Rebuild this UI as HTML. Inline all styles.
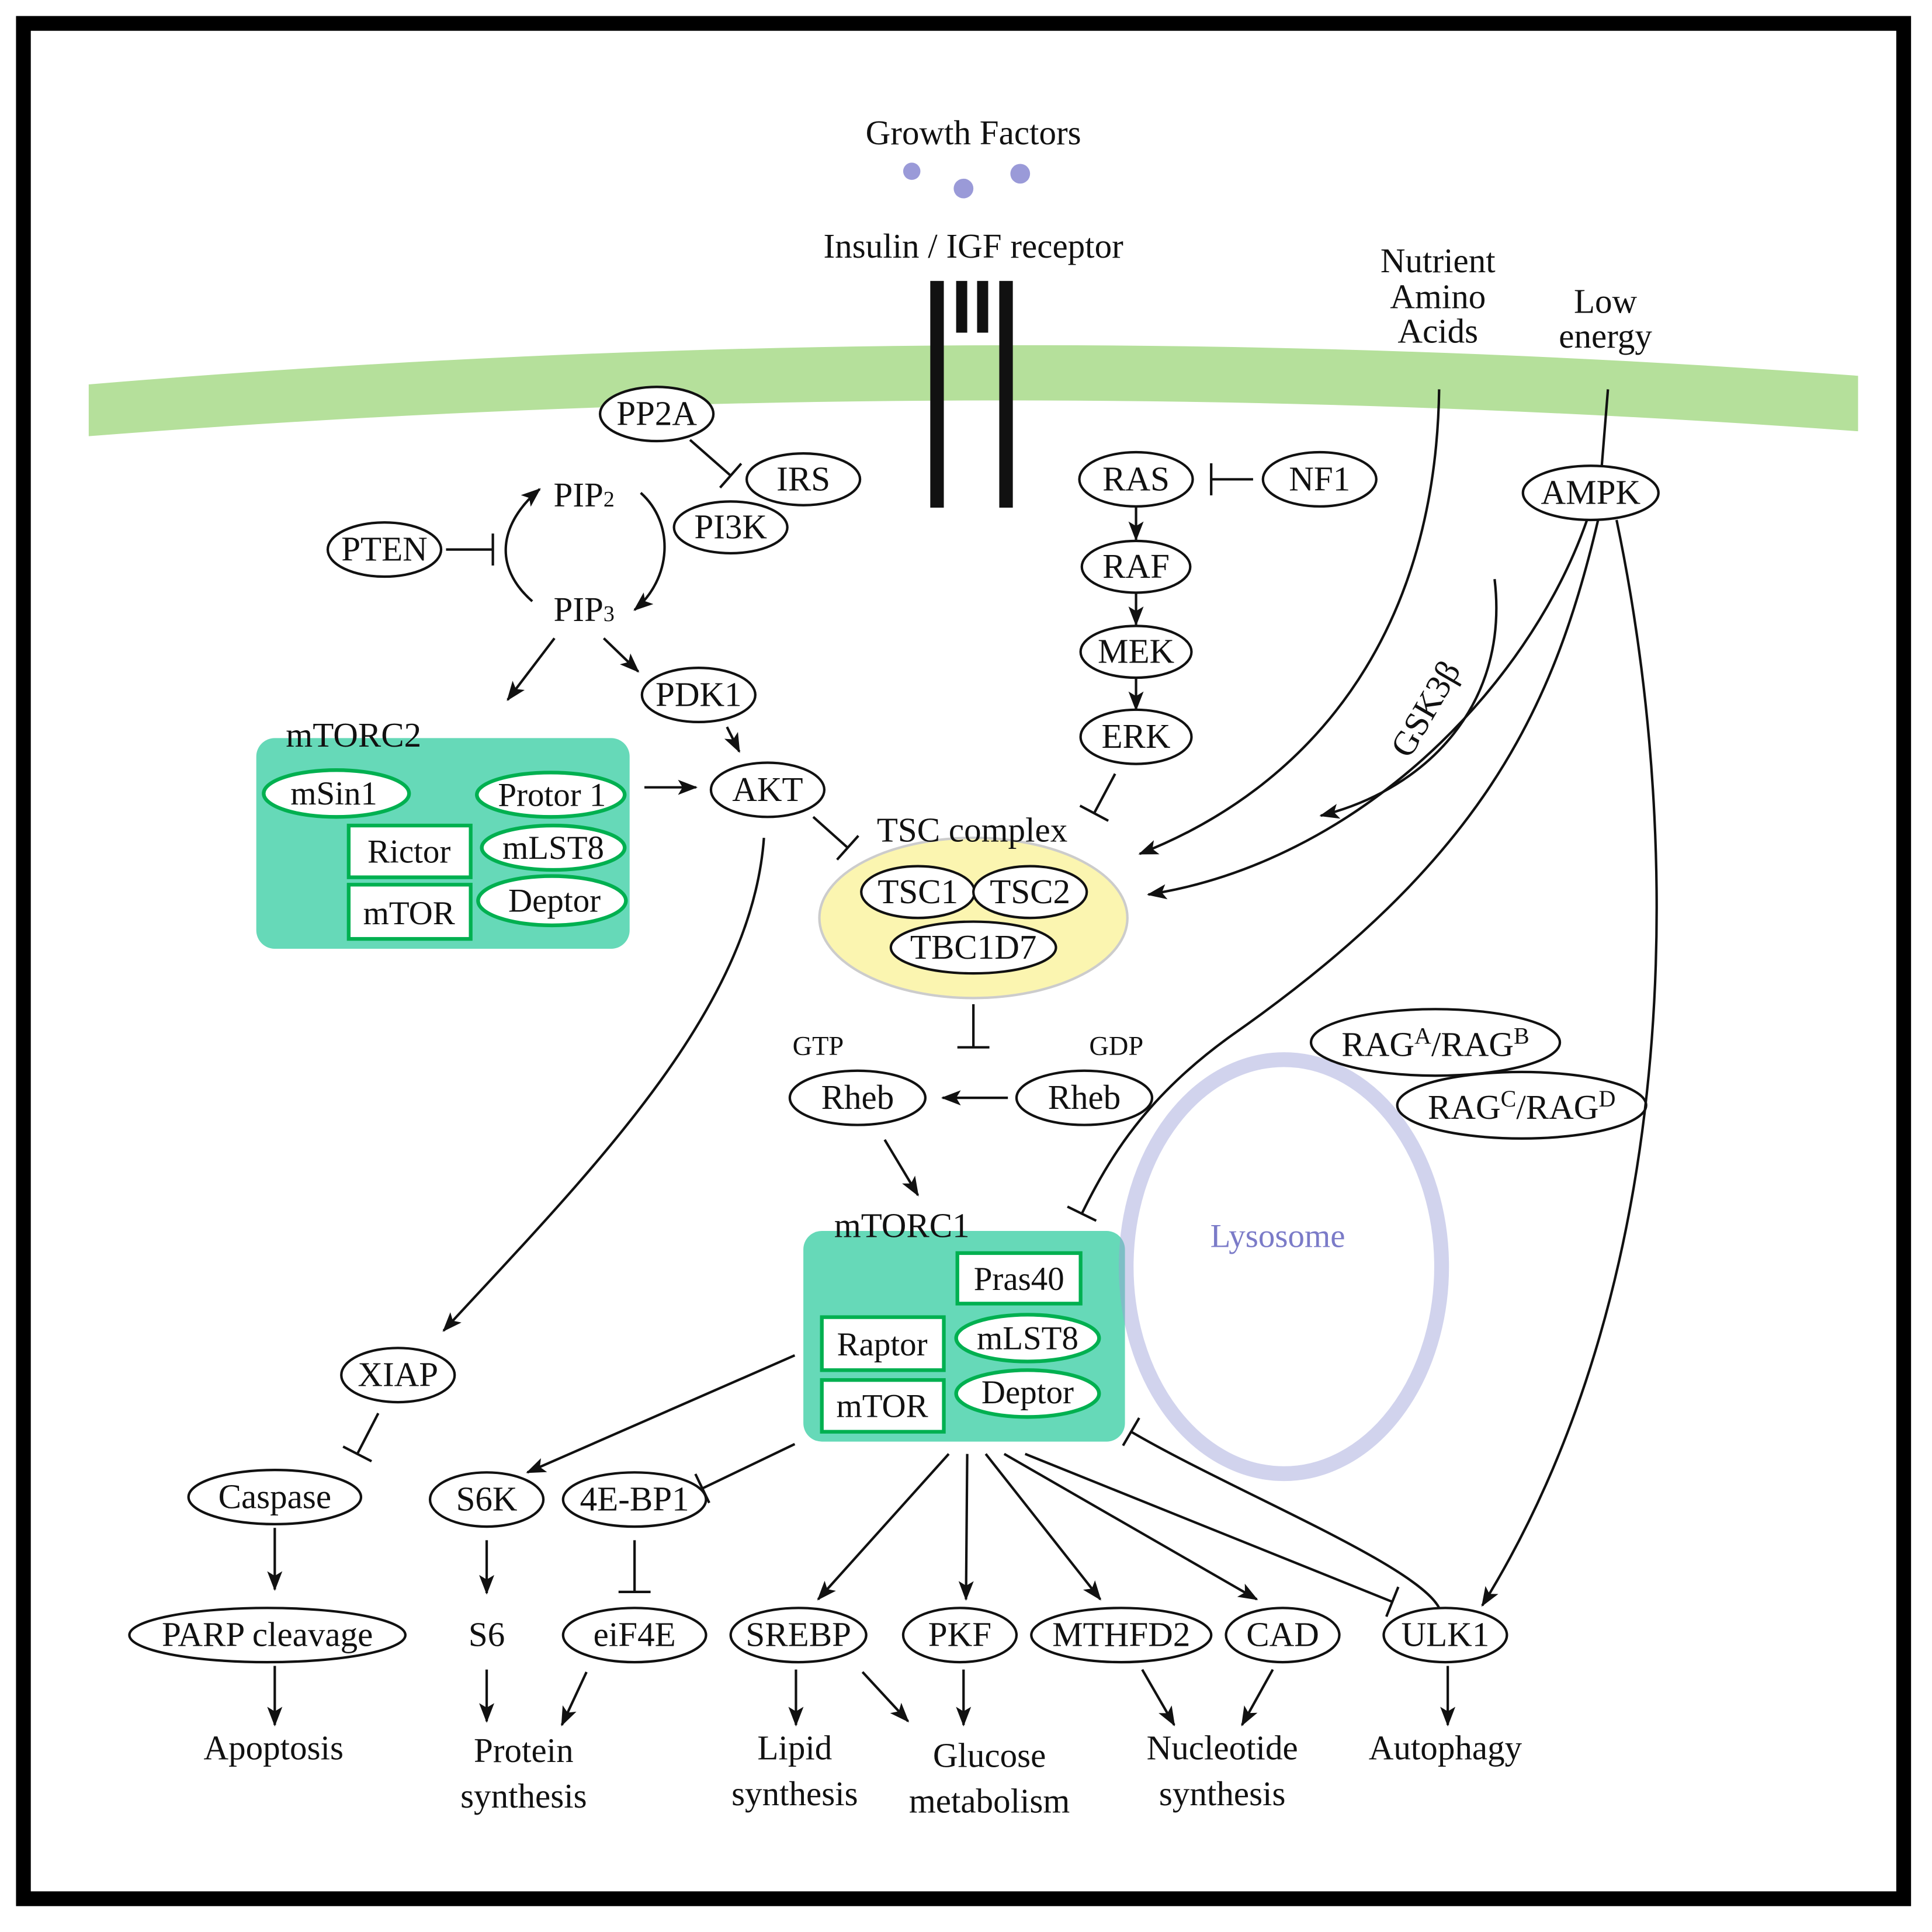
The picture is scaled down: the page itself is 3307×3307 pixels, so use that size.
<!DOCTYPE html>
<html><head><meta charset="utf-8"><style>html,body{margin:0;padding:0;background:#fff}svg{display:block}</style></head>
<body>
<svg width="3307" height="3307" viewBox="0 0 1568 1568" xmlns="http://www.w3.org/2000/svg" font-family="Liberation Serif, serif">
<defs>
<marker id="ar" markerUnits="userSpaceOnUse" markerWidth="16" markerHeight="14" refX="12" refY="5" orient="auto" viewBox="0 0 13 10"><path d="M0,0 L13,5 L0,10 L3,5 Z" fill="#111"/></marker>
<marker id="bar" markerUnits="userSpaceOnUse" markerWidth="4" markerHeight="30" refX="2" refY="15" orient="auto" viewBox="0 0 4 30"><path d="M2,2 L2,28" stroke="#111" stroke-width="2"/></marker>
</defs>
<rect x="0" y="0" width="1568" height="1568" fill="#fff"/>
<rect x="19" y="19" width="1526" height="1522" fill="none" stroke="#000" stroke-width="12"/>

<path d="M72,312 Q790,252 1508,305 L1508,350 Q790,298 72,354 Z" fill="#b5e09b"/>

<rect x="755" y="228" width="11" height="184" fill="#111"/>
<rect x="811" y="228" width="11" height="184" fill="#111"/>
<rect x="776" y="228" width="9" height="42" fill="#111"/>
<rect x="793" y="228" width="9" height="42" fill="#111"/>

<circle cx="740" cy="139" r="7" fill="#9a9ad8"/>
<circle cx="782" cy="153" r="8" fill="#9a9ad8"/>
<circle cx="828" cy="141" r="8" fill="#9a9ad8"/>

<g font-size="28" fill="#111" text-anchor="middle">
<text x="790" y="117">Growth Factors</text>
<text x="790" y="209">Insulin / IGF receptor</text>
<text x="1167" y="221">Nutrient</text>
<text x="1167" y="250">Amino</text>
<text x="1167" y="278">Acids</text>
<text x="1303" y="254">Low</text>
<text x="1303" y="282">energy</text>
</g>

<rect x="208" y="599" width="303" height="171" rx="15" fill="#66d9b8"/>
<text x="232" y="606" font-size="28" fill="#111">mTORC2</text>
<g stroke="#00b050" stroke-width="3" fill="#fff">
<ellipse cx="273" cy="644" rx="59" ry="19"/>
<ellipse cx="447" cy="645" rx="60" ry="18"/>
<rect x="283" y="670" width="99" height="42"/>
<ellipse cx="449" cy="688" rx="58" ry="18"/>
<rect x="283" y="718" width="99" height="44"/>
<ellipse cx="448" cy="731" rx="60" ry="20"/>
</g>
<g font-size="27" fill="#111" text-anchor="middle">
<text x="271" y="653">mSin1</text>
<text x="448" y="654">Protor 1</text>
<text x="332" y="700">Rictor</text>
<text x="449" y="697">mLST8</text>
<text x="332" y="750">mTOR</text>
<text x="450" y="740">Deptor</text>
</g>

<rect x="652" y="999" width="261" height="171" rx="15" fill="#66d9b8"/>
<text x="677" y="1004" font-size="28" fill="#111">mTORC1</text>
<g stroke="#00b050" stroke-width="3" fill="#fff">
<rect x="777" y="1017" width="100" height="41"/>
<rect x="667" y="1069" width="99" height="43"/>
<rect x="667" y="1120" width="99" height="42"/>
<ellipse cx="834" cy="1086" rx="58" ry="19"/>
<ellipse cx="834" cy="1131" rx="58" ry="19"/>
</g>
<g font-size="27" fill="#111" text-anchor="middle">
<text x="827" y="1047">Pras40</text>
<text x="716" y="1100">Raptor</text>
<text x="716" y="1150">mTOR</text>
<text x="834" y="1095">mLST8</text>
<text x="834" y="1139">Deptor</text>
</g>

<ellipse cx="1042" cy="1028" rx="128" ry="168" fill="none" stroke="#9a9ed8" stroke-opacity="0.45" stroke-width="12"/>
<text x="1037" y="1012" font-size="27" fill="#7b7bc8" text-anchor="middle">Lysosome</text>

<ellipse cx="790" cy="745" rx="125" ry="65" fill="#fbf5b0" stroke="#ccc" stroke-width="2"/>
<text x="789" y="683" font-size="28" fill="#111" text-anchor="middle">TSC complex</text>

<g stroke="#111" stroke-width="2" fill="#fff">
<ellipse cx="533" cy="336" rx="46" ry="22"/>
<ellipse cx="652" cy="389" rx="46" ry="21"/>
<ellipse cx="593" cy="428" rx="46" ry="21"/>
<ellipse cx="312" cy="446" rx="46" ry="22"/>
<ellipse cx="567" cy="564" rx="46" ry="22"/>
<ellipse cx="623" cy="641" rx="46" ry="22"/>
<ellipse cx="922" cy="389" rx="46" ry="22"/>
<ellipse cx="1071" cy="389" rx="46" ry="22"/>
<ellipse cx="922" cy="460" rx="44" ry="21"/>
<ellipse cx="922" cy="529" rx="45" ry="21"/>
<ellipse cx="922" cy="598" rx="45" ry="22"/>
<ellipse cx="1291" cy="400" rx="55" ry="22"/>
<ellipse cx="745" cy="724" rx="46" ry="21"/>
<ellipse cx="836" cy="724" rx="46" ry="21"/>
<ellipse cx="790" cy="769" rx="67" ry="21"/>
<ellipse cx="696" cy="891" rx="55" ry="22"/>
<ellipse cx="880" cy="891" rx="55" ry="22"/>
<ellipse cx="1165" cy="846" rx="101" ry="27"/>
<ellipse cx="1235" cy="897" rx="101" ry="27"/>
<ellipse cx="323" cy="1116" rx="46" ry="22"/>
<ellipse cx="223" cy="1215" rx="70" ry="22"/>
<ellipse cx="395" cy="1217" rx="46" ry="22"/>
<ellipse cx="515" cy="1217" rx="58" ry="22"/>
<ellipse cx="217" cy="1327" rx="112" ry="22"/>
<ellipse cx="515" cy="1327" rx="58" ry="22"/>
<ellipse cx="648" cy="1327" rx="55" ry="22"/>
<ellipse cx="779" cy="1327" rx="46" ry="22"/>
<ellipse cx="910" cy="1327" rx="73" ry="22"/>
<ellipse cx="1041" cy="1327" rx="46" ry="22"/>
<ellipse cx="1173" cy="1327" rx="50" ry="22"/>
</g>
<g font-size="28" fill="#111" text-anchor="middle">
<text x="533" y="345">PP2A</text>
<text x="652" y="398">IRS</text>
<text x="593" y="437">PI3K</text>
<text x="312" y="455">PTEN</text>
<text x="567" y="573">PDK1</text>
<text x="623" y="650">AKT</text>
<text x="922" y="398">RAS</text>
<text x="1071" y="398">NF1</text>
<text x="922" y="469">RAF</text>
<text x="922" y="538">MEK</text>
<text x="922" y="607">ERK</text>
<text x="1291" y="409">AMPK</text>
<text x="745" y="733">TSC1</text>
<text x="836" y="733">TSC2</text>
<text x="790" y="778">TBC1D7</text>
<text x="696" y="900">Rheb</text>
<text x="880" y="900">Rheb</text>
<text x="1165" y="857">RAG<tspan font-size="19" dy="-10">A</tspan><tspan dy="10">/RAG</tspan><tspan font-size="19" dy="-10">B</tspan></text>
<text x="1235" y="908">RAG<tspan font-size="19" dy="-10">C</tspan><tspan dy="10">/RAG</tspan><tspan font-size="19" dy="-10">D</tspan></text>
<text x="323" y="1125">XIAP</text>
<text x="223" y="1224">Caspase</text>
<text x="395" y="1226">S6K</text>
<text x="515" y="1226">4E-BP1</text>
<text x="217" y="1336">PARP cleavage</text>
<text x="515" y="1336">eiF4E</text>
<text x="648" y="1336">SREBP</text>
<text x="779" y="1336">PKF</text>
<text x="910" y="1336">MTHFD2</text>
<text x="1041" y="1336">CAD</text>
<text x="1173" y="1336">ULK1</text>
<text x="395" y="1336">S6</text>
<text x="474" y="411">PIP<tspan font-size="18">2</tspan></text>
<text x="474" y="504">PIP<tspan font-size="18">3</tspan></text>
<text x="222" y="1428">Apoptosis</text>
<text x="425" y="1430">Protein</text>
<text x="425" y="1467">synthesis</text>
<text x="645" y="1428">Lipid</text>
<text x="645" y="1465">synthesis</text>
<text x="803" y="1434">Glucose</text>
<text x="803" y="1471">metabolism</text>
<text x="992" y="1428">Nucleotide</text>
<text x="992" y="1465">synthesis</text>
<text x="1173" y="1428">Autophagy</text>
<text x="1165" y="580" transform="rotate(-60 1165 580)">GSK3β</text>
</g>
<g font-size="22" fill="#111" text-anchor="middle">
<text x="664" y="856">GTP</text>
<text x="906" y="856">GDP</text>
</g>

<g stroke="#111" stroke-width="2" fill="none">
<path d="M560,357 L593,386" marker-end="url(#bar)"/>
<path d="M362,446 L400,446" marker-end="url(#bar)"/>
<path d="M432,488 C400,460 405,425 438,397" marker-end="url(#ar)"/>
<path d="M520,400 C548,425 545,470 515,495" marker-end="url(#ar)"/>
<path d="M450,518 L412,568" marker-end="url(#ar)"/>
<path d="M490,518 L518,545" marker-end="url(#ar)"/>
<path d="M590,590 L600,610" marker-end="url(#ar)"/>
<path d="M523,639 L565,639" marker-end="url(#ar)"/>
<path d="M660,663 L688,688" marker-end="url(#bar)"/>
<path d="M620,680 C610,820 480,950 360,1080" marker-end="url(#ar)"/>
<path d="M1017,389 L983,389" marker-end="url(#bar)"/>
<path d="M922,411 L922,438" marker-end="url(#ar)"/>
<path d="M922,481 L922,507" marker-end="url(#ar)"/>
<path d="M922,550 L922,576" marker-end="url(#ar)"/>
<path d="M905,628 L888,660" marker-end="url(#bar)"/>
<path d="M1168,316 C1165,520 1060,640 925,693" marker-end="url(#ar)"/>
<path d="M1213,470 C1225,570 1160,640 1072,662" marker-end="url(#ar)"/>
<path d="M1305,316 L1300,378"/>
<path d="M1288,422 C1240,560 1100,700 932,726" marker-end="url(#ar)"/>
<path d="M1297,422 C1260,580 1200,700 1000,840 C930,890 900,940 878,985" marker-end="url(#bar)"/>
<path d="M1312,422 C1370,700 1360,1050 1203,1303" marker-end="url(#ar)"/>
<path d="M790,815 L790,850" marker-end="url(#bar)"/>
<path d="M818,891 L765,891" marker-end="url(#ar)"/>
<path d="M718,925 L745,970" marker-end="url(#ar)"/>
<path d="M645,1100 L428,1195" marker-end="url(#ar)"/>
<path d="M645,1172 L570,1208" marker-end="url(#bar)"/>
<path d="M770,1180 L664,1298" marker-end="url(#ar)"/>
<path d="M785,1180 L784,1298" marker-end="url(#ar)"/>
<path d="M800,1180 L893,1298" marker-end="url(#ar)"/>
<path d="M815,1180 L1020,1298" marker-end="url(#ar)"/>
<path d="M832,1180 L1130,1300" marker-end="url(#bar)"/>
<path d="M1168,1305 C1150,1270 1000,1210 918,1162" marker-end="url(#bar)"/>
<path d="M307,1147 L290,1180" marker-end="url(#bar)"/>
<path d="M223,1240 L223,1290" marker-end="url(#ar)"/>
<path d="M223,1352 L223,1400" marker-end="url(#ar)"/>
<path d="M395,1250 L395,1293" marker-end="url(#ar)"/>
<path d="M395,1355 L395,1397" marker-end="url(#ar)"/>
<path d="M515,1250 L515,1292" marker-end="url(#bar)"/>
<path d="M476,1357 L456,1400" marker-end="url(#ar)"/>
<path d="M646,1355 L646,1400" marker-end="url(#ar)"/>
<path d="M700,1357 L737,1397" marker-end="url(#ar)"/>
<path d="M782,1355 L782,1400" marker-end="url(#ar)"/>
<path d="M927,1355 L953,1400" marker-end="url(#ar)"/>
<path d="M1033,1355 L1008,1400" marker-end="url(#ar)"/>
<path d="M1175,1352 L1175,1400" marker-end="url(#ar)"/>
</g>
</svg>
</body></html>
